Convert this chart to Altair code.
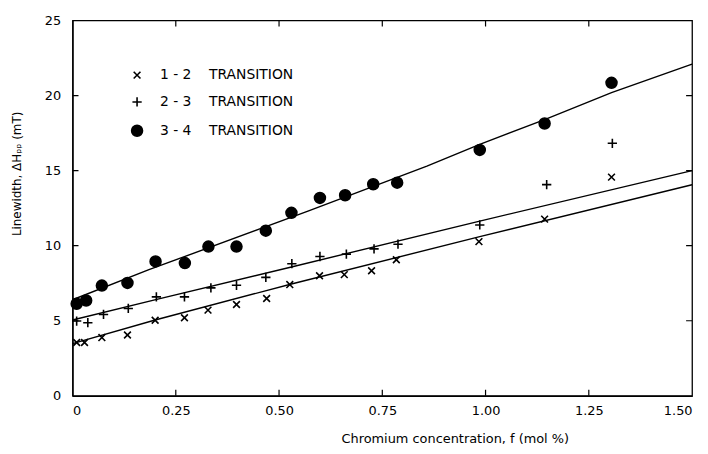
import altair as alt
import pandas as pd

# ---- data ----
GAP = " \u00a0\u00a0\u00a0"
series_names = ["1 - 2" + GAP + "TRANSITION", "2 - 3" + GAP + "TRANSITION", "3 - 4" + GAP + "TRANSITION"]

x_12 = [0.01, 0.029, 0.071, 0.133, 0.2, 0.271, 0.328, 0.397, 0.47, 0.526, 0.598, 0.658, 0.724, 0.784, 0.984, 1.143, 1.305]
y_12 = [3.55, 3.55, 3.88, 4.05, 5.03, 5.2, 5.71, 6.08, 6.48, 7.41, 8.0, 8.07, 8.33, 9.06, 10.27, 11.77, 14.57]

x_23 = [0.01, 0.037, 0.075, 0.135, 0.203, 0.271, 0.335, 0.397, 0.468, 0.531, 0.599, 0.663, 0.73, 0.788, 0.986, 1.148, 1.307]
y_23 = [4.98, 4.87, 5.42, 5.82, 6.59, 6.59, 7.19, 7.36, 7.89, 8.8, 9.28, 9.44, 9.79, 10.1, 11.38, 14.07, 16.82]

x_34 = [0.01, 0.033, 0.071, 0.133, 0.201, 0.272, 0.329, 0.397, 0.468, 0.53, 0.599, 0.66, 0.728, 0.786, 0.986, 1.143, 1.305]
y_34 = [6.13, 6.35, 7.34, 7.52, 8.95, 8.84, 9.94, 9.94, 11.0, 12.19, 13.18, 13.36, 14.09, 14.2, 16.38, 18.14, 20.85]

# fitted lines
lx_12 = [0, 0.2, 0.53, 0.986, 1.5]
ly_12 = [3.48, 5.05, 7.45, 10.6, 14.06]
lx_23 = [0, 0.209, 0.53, 0.986, 1.5]
ly_23 = [5.05, 6.46, 8.58, 11.64, 15.0]
lx_34 = [0, 0.185, 0.57, 0.858, 0.986, 1.143, 1.305, 1.5]
ly_34 = [6.4, 8.4, 12.3, 15.3, 16.75, 18.4, 20.2, 22.1]

x_ticks = [0, 0.25, 0.5, 0.75, 1.0, 1.25, 1.5]
y_ticks = [0, 5, 10, 15, 20, 25]

pts = pd.concat([
    pd.DataFrame({"x": x_12, "y": y_12, "series": series_names[0]}),
    pd.DataFrame({"x": x_23, "y": y_23, "series": series_names[1]}),
    pd.DataFrame({"x": x_34, "y": y_34, "series": series_names[2]}),
])
lines = pd.concat([
    pd.DataFrame({"x": lx_12, "y": ly_12, "series": series_names[0]}),
    pd.DataFrame({"x": lx_23, "y": ly_23, "series": series_names[1]}),
    pd.DataFrame({"x": lx_34, "y": ly_34, "series": series_names[2]}),
])
xt = pd.DataFrame({"v": x_ticks[1:-1]})
yt = pd.DataFrame({"v": y_ticks[1:-1]})

W, H = 624, 378
FONT = "DejaVu Sans"
x_scale = alt.Scale(domain=[0, 1.5], nice=False, zero=False)
y_scale = alt.Scale(domain=[0, 25], nice=False)
label_expr = "datum.value == 0 ? '0' : format(datum.value, '.2f')"

line_layer = alt.Chart(lines).mark_line(color="black", strokeWidth=1.4).encode(
    x=alt.X("x:Q", scale=x_scale, axis=alt.Axis(
        orient="bottom", values=x_ticks, labelExpr=label_expr, ticks=False, grid=False,
        labelPadding=9, labelFontSize=13, labelFont=FONT, labelColor="black",
        domainColor="black", domainWidth=1.3,
        title="Chromium concentration, f (mol %)", titleFont=FONT, titleFontSize=13,
        titleFontWeight="normal", titleColor="black", titleX=385, titleY=43,
        titleBaseline="middle")),
    y=alt.Y("y:Q", scale=y_scale, axis=alt.Axis(
        orient="left", values=y_ticks, ticks=False, grid=False,
        labelPadding=12, labelFontSize=13, labelFont=FONT, labelColor="black",
        domainColor="black", domainWidth=1.3,
        title="Linewidth, ΔHₚₚ (mT)", titleFont=FONT, titleFontSize=12,
        titleFontWeight="normal", titleColor="black", titleX=-56, titleY=154,
        titleBaseline="middle", titleAngle=270)),
    detail="series:N",
)

shape_range = ["M-0.62,-0.62L0.62,0.62M-0.62,0.62L0.62,-0.62", "M-0.85,0L0.85,0M0,-0.85L0,0.85", "circle"]
fill_range = ["transparent", "transparent", "black"]
stroke_range = ["black", "black", "black"]

legend = alt.Legend(
    title=None, orient="none", legendX=58, legendY=48, padding=0,
    labelFont=FONT, labelFontSize=14, labelColor="black", labelOffset=16,
    symbolSize=121, symbolStrokeColor="black", symbolStrokeWidth=1.6,
    rowPadding=12, labelLimit=400,
)

pt_layer = alt.Chart(pts).mark_point(strokeWidth=1.6, opacity=1, size=121).encode(
    x=alt.X("x:Q", scale=x_scale, axis=None),
    y=alt.Y("y:Q", scale=y_scale, axis=None),
    shape=alt.Shape("series:N", scale=alt.Scale(domain=series_names, range=shape_range), legend=legend),
    fill=alt.Fill("series:N", scale=alt.Scale(domain=series_names, range=fill_range), legend=legend),
    stroke=alt.Stroke("series:N", scale=alt.Scale(domain=series_names, range=stroke_range), legend=legend),
)

# inward ticks on all four sides (half of each tick is clipped away)
tick_bottom = alt.Chart(xt).mark_tick(orient="vertical", size=12, thickness=1.2, color="black", clip=True, opacity=1).encode(
    x=alt.X("v:Q", scale=x_scale, axis=None), y=alt.value(H))
tick_top = alt.Chart(xt).mark_tick(orient="vertical", size=12, thickness=1.2, color="black", clip=True, opacity=1).encode(
    x=alt.X("v:Q", scale=x_scale, axis=None), y=alt.value(0))
tick_left = alt.Chart(yt).mark_tick(orient="horizontal", size=12, thickness=1.2, color="black", clip=True, opacity=1).encode(
    y=alt.Y("v:Q", scale=y_scale, axis=None), x=alt.value(0))
tick_right = alt.Chart(yt).mark_tick(orient="horizontal", size=12, thickness=1.2, color="black", clip=True, opacity=1).encode(
    y=alt.Y("v:Q", scale=y_scale, axis=None), x=alt.value(W))

chart = alt.layer(
    line_layer, pt_layer, tick_bottom, tick_top, tick_left, tick_right
).resolve_axis(
    x="independent", y="independent"
).properties(
    width=W, height=H,
    autosize=alt.AutoSizeParams(type="none"),
    padding={"left": 65, "top": 11, "right": 8, "bottom": 55},
).configure(
    background="white",
    view=alt.ViewConfig(stroke="black", strokeWidth=1.3),
)

chart.save("out.html", embed_options={"renderer": "svg", "actions": False})
